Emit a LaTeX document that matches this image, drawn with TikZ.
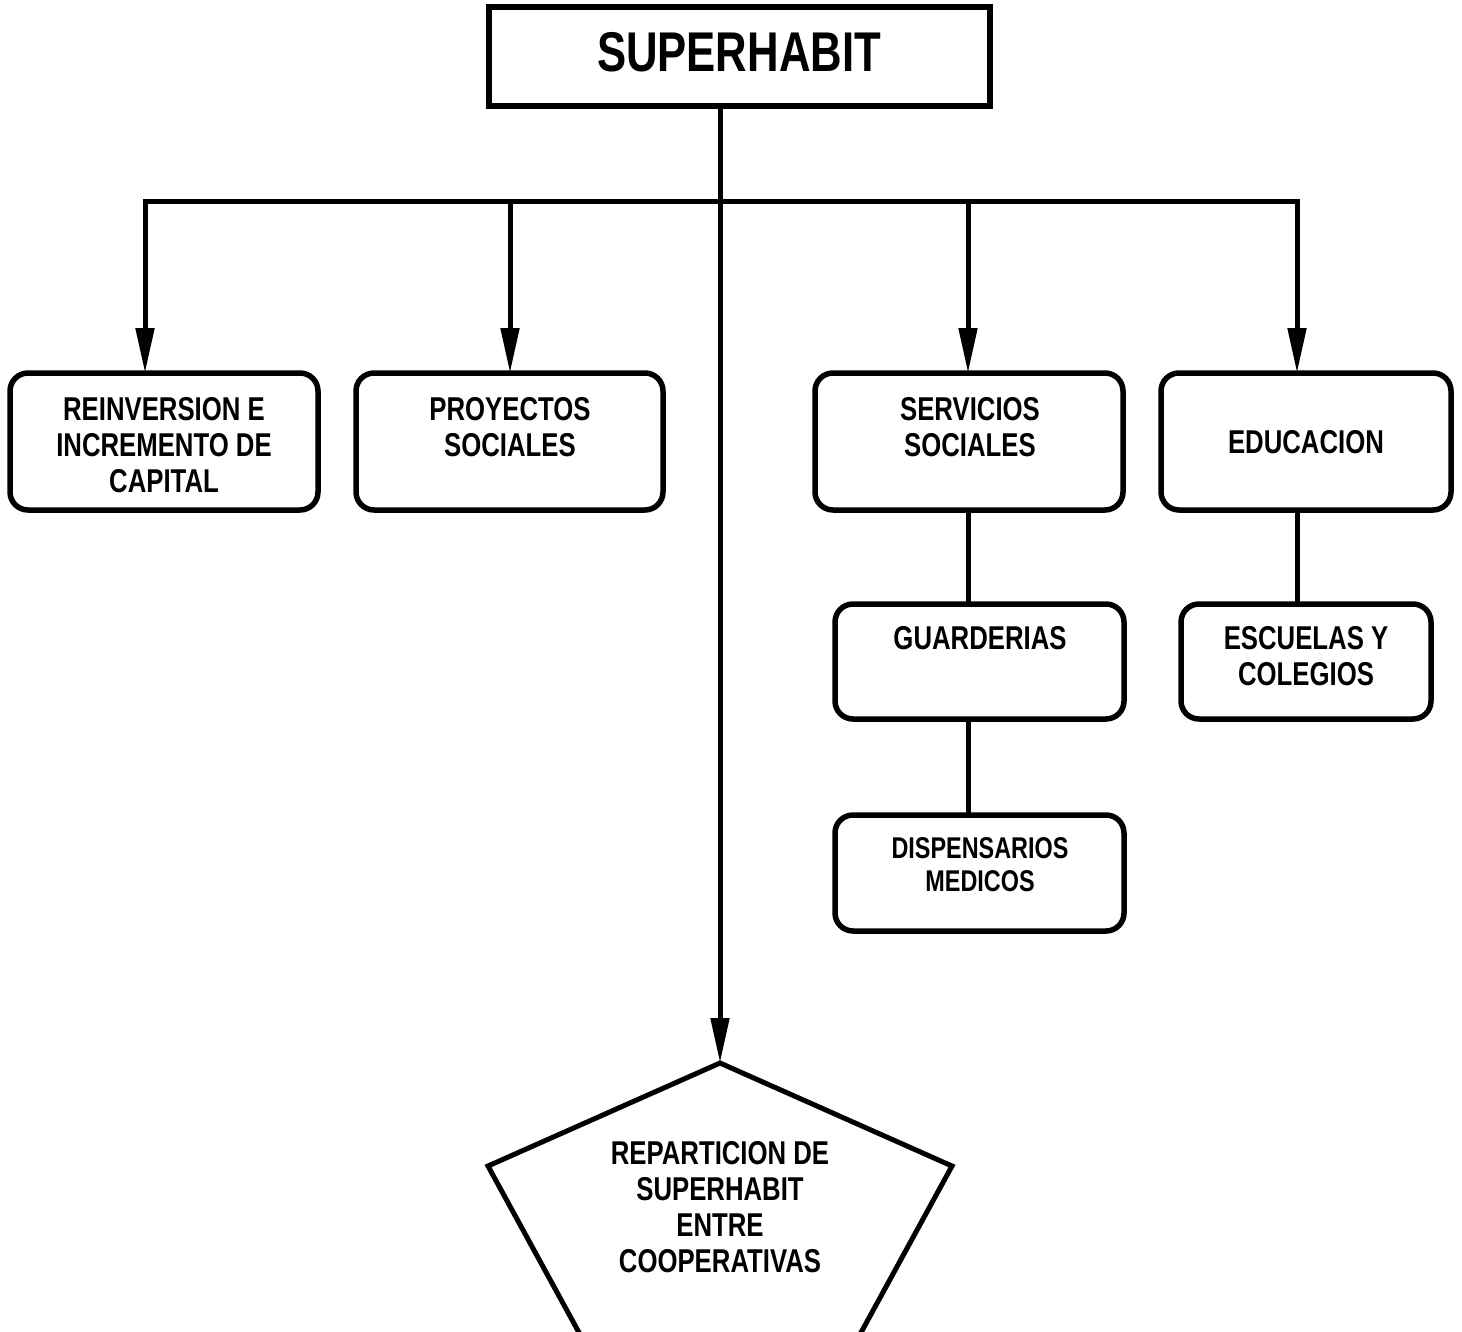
\documentclass[tikz,border=0pt]{standalone}
\usepackage{fontspec}
\setmainfont[FakeStretch=0.78]{Liberation Sans}
\usetikzlibrary{arrows.meta}
\begin{document}
\begin{tikzpicture}[x=1pt,y=-1pt,
  every node/.style={inner sep=0pt, outer sep=0pt},
  boxr/.style={draw, line width=5.5pt, rounded corners=18pt},
  boxs/.style={draw, line width=5.5pt},
  lbl/.style={font=\fontsize{33}{36}\selectfont\bfseries, align=center},
  conn/.style={line width=5pt},
  arr/.style={line width=5pt, -{Triangle[length=45pt,width=18pt]}}]
\useasboundingbox (0,0) rectangle (1462,1331);
\clip (0,0) rectangle (1462,1331);
% top box
\node[boxs, minimum width=501pt, minimum height=99pt] (top) at (739.5,56.5) {};
\node[font=\fontsize{56}{60}\selectfont\bfseries] (toptxt) at (739,52) {SUPERHABIT};
% boxes
\node[boxr, minimum width=308pt, minimum height=137pt] (reinv) at (164,441.5) {};
\node[lbl] (reinvtxt) at (164,445) {REINVERSION E\\INCREMENTO DE\\CAPITAL};
\node[boxr, minimum width=307pt, minimum height=137pt] (proy) at (509.5,441.5) {};
\node[lbl] (proytxt) at (510,427) {PROYECTOS\\SOCIALES};
\node[boxr, minimum width=308pt, minimum height=137pt] (serv) at (969,441.5) {};
\node[lbl] (servtxt) at (970,427) {SERVICIOS\\SOCIALES};
\node[boxr, minimum width=290pt, minimum height=137pt] (educ) at (1306,441.5) {};
\node[lbl] (eductxt) at (1306,442) {EDUCACION};
\node[boxr, minimum width=289pt, minimum height=115pt] (guard) at (979.5,661.5) {};
\node[lbl] (guardtxt) at (980,638) {GUARDERIAS};
\node[boxr, minimum width=289pt, minimum height=116pt] (disp) at (979.5,873) {};
\node[lbl, font=\fontsize{30}{33}\selectfont\bfseries] (disptxt) at (980,864.5) {DISPENSARIOS\\MEDICOS};
\node[boxr, minimum width=250pt, minimum height=115pt] (esc) at (1306,661.5) {};
\node[lbl] (esctxt) at (1306,656) {ESCUELAS Y\\COLEGIOS};
% pentagon
\coordinate (pent) at (720,1063);
\draw[line width=5pt, line join=miter] (pent) -- (952,1166) -- (846,1360) -- (594,1360) -- (488,1166) -- cycle;
\node[lbl] (penttxt) at (720,1207.5) {REPARTICION DE\\SUPERHABIT\\ENTRE\\COOPERATIVAS};
% connectors
\coordinate (b1) at (145,201);
\coordinate (b2) at (510,201);
\coordinate (b3) at (968,201);
\coordinate (b4) at (1297,201);
\draw[conn, line cap=rect] (b1) -- (b4);
\draw[arr] (top.south -| pent) -- (pent);
\draw[arr] (b1) -- (b1 |- reinv.north);
\draw[arr] (b2) -- (b2 |- proy.north);
\draw[arr] (b3) -- (b3 |- serv.north);
\draw[arr] (b4) -- (b4 |- educ.north);
\draw[conn] (b3 |- serv.south) -- (b3 |- guard.north);
\draw[conn] (b3 |- guard.south) -- (b3 |- disp.north);
\draw[conn] (b4 |- educ.south) -- (b4 |- esc.north);
\end{tikzpicture}
\end{document}
